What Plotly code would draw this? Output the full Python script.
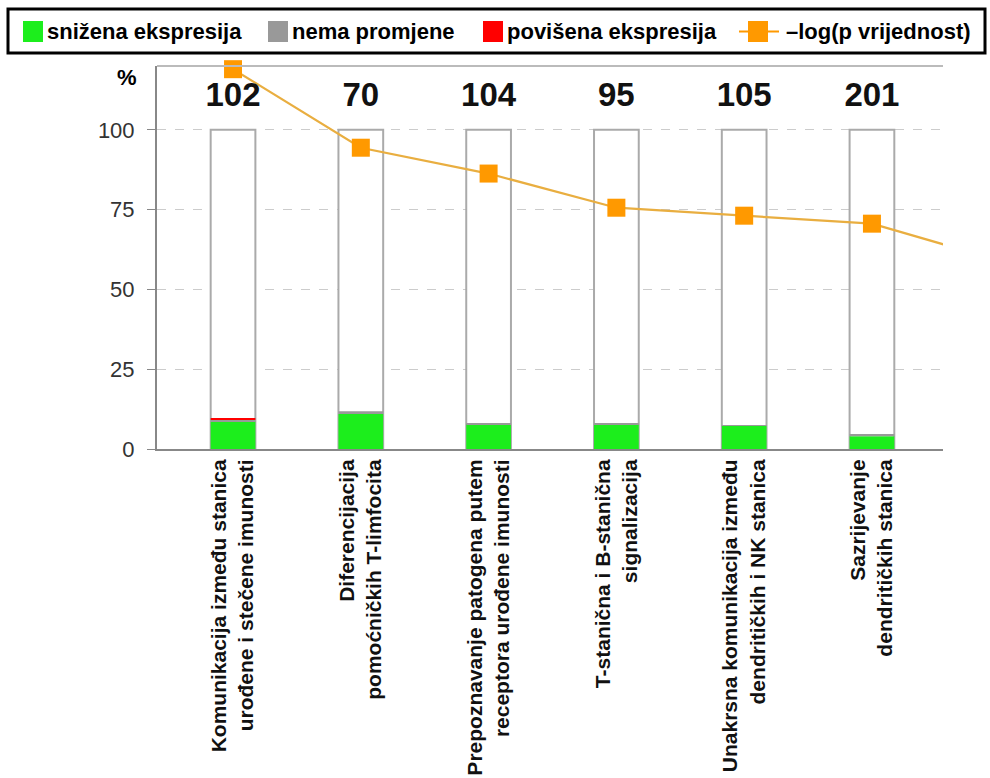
import plotly.graph_objects as go

categories = [
    "Komunikacija između stanica<br>urođene i stečene imunosti",
    "Diferencijacija<br>pomoćničkih T-limfocita",
    "Prepoznavanje patogena putem<br>receptora urođene imunosti",
    "T-stanična i B-stanična<br>signalizacija",
    "Unakrsna komunikacija između<br>dendritičkih i NK stanica",
    "Sazrijevanje<br>dendritičkih stanica",
]
counts = [102, 70, 104, 95, 105, 201]
down_pct = [8.5, 11.0, 7.8, 7.7, 7.3, 4.0]
nochange_pct = [0.6, 0.8, 0.3, 0.3, 0.2, 0.7]
up_pct = [0.4, 0.0, 0.0, 0.0, 0.0, 0.0]
total_pct = [100, 100, 100, 100, 100, 100]
# -log(p) series; the last point lies beyond the visible category range
neglogp = [119, 94.4, 86.3, 75.6, 73.1, 70.6, 59.0]
y_ticks = [0, 25, 50, 75, 100]

legend_names = ["snižena ekspresija", "nema promjene", "povišena ekspresija", "\u2013log(p vrijednost)"]

C_GREEN = "#1CEE1C"
C_GRAY = "#999999"
C_RED = "#FF0000"
C_ORANGE = "#FF9900"
C_LINE = "#E9AE40"

W, H = 990, 778
ML, MR, MT, MB = 157, 47, 66, 329
PW, PH = W - ML - MR, H - MT - MB

def px(x):
    return (x - ML) / PW

def py(y):
    return (H - MB - y) / PH

xs = list(range(len(categories)))
base_gray = [d for d in down_pct]
base_red = [d + n for d, n in zip(down_pct, nochange_pct)]

fig = go.Figure()
fig.add_trace(go.Bar(x=xs, y=total_pct, width=0.35, marker=dict(color="white", line=dict(color="#AAAAAA", width=2)), showlegend=False, hoverinfo="skip"))
fig.add_trace(go.Bar(x=xs, y=down_pct, width=0.35, marker=dict(color=C_GREEN, line=dict(width=0)), name=legend_names[0], showlegend=False))
fig.add_trace(go.Bar(x=xs, y=nochange_pct, base=base_gray, width=0.35, marker=dict(color=C_GRAY, line=dict(width=0)), name=legend_names[1], showlegend=False))
fig.add_trace(go.Bar(x=xs, y=up_pct, base=base_red, width=0.35, marker=dict(color=C_RED, line=dict(width=0)), name=legend_names[2], showlegend=False))

line_x = list(range(len(neglogp)))
fig.add_trace(go.Scatter(x=line_x, y=neglogp, mode="lines", line=dict(color=C_LINE, width=2.2), showlegend=False, hoverinfo="skip"))
fig.add_trace(go.Scatter(x=xs, y=neglogp[:len(xs)], mode="markers", marker=dict(symbol="square", size=18, color=C_ORANGE), cliponaxis=False, name=legend_names[3], showlegend=False))

fig.add_trace(go.Scatter(x=xs, y=[110] * len(xs), mode="text", text=[str(c) for c in counts],
                         textfont=dict(size=33, color="#111111", family="Liberation Sans", weight="bold"),
                         cliponaxis=False, showlegend=False, hoverinfo="skip"))

fig.update_layout(
    width=W, height=H,
    margin=dict(l=ML, r=MR, t=MT, b=MB, autoexpand=False),
    paper_bgcolor="white", plot_bgcolor="white",
    barmode="overlay",
    font=dict(family="Liberation Sans", color="#111111"),
    xaxis=dict(range=[-0.595, 5.556], tickmode="array", tickvals=xs, ticktext=categories,
               tickangle=-90, tickfont=dict(size=21, weight="bold", color="#111111"),
               showline=True, linecolor="#888888", linewidth=2, showgrid=False, ticks="", zeroline=False),
    yaxis=dict(range=[0, 120], tickmode="array", tickvals=y_ticks, ticktext=[str(v) for v in y_ticks],
               tickfont=dict(size=22, color="#333333"), ticks="outside", ticklen=8, tickcolor="#888888", tickwidth=1,
               ticklabelstandoff=8,
               showline=True, linecolor="#888888", linewidth=2, showgrid=True, gridcolor="#CCCCCC", griddash="dash",
               gridwidth=1, zeroline=False),
)

shapes = []
annotations = []
# top border of plot area
shapes.append(dict(type="line", xref="paper", yref="paper", x0=0, x1=1, y0=1, y1=1, line=dict(color="#BBBBBB", width=2)))
# legend box
shapes.append(dict(type="rect", xref="paper", yref="paper", x0=px(8), x1=px(985), y0=py(53), y1=py(9),
                   line=dict(color="black", width=3), fillcolor="white", layer="above"))
legend_items = [
    (C_GREEN, 23, 45, False),
    (C_GRAY, 268, 290, False),
    (C_RED, 483, 505, False),
    (C_ORANGE, 748, 784, True),
]
yc = 31.5
for (col, sx, tx, is_line), name in zip(legend_items, legend_names):
    if is_line:
        shapes.append(dict(type="line", xref="paper", yref="paper", x0=px(739), x1=px(779), y0=py(yc), y1=py(yc),
                           line=dict(color=C_ORANGE, width=2), layer="above"))
    shapes.append(dict(type="rect", xref="paper", yref="paper", x0=px(sx), x1=px(sx + 20), y0=py(yc + 10.5), y1=py(yc - 10.5),
                       line=dict(width=0), fillcolor=col, layer="above"))
    annotations.append(dict(xref="paper", yref="paper", x=px(tx), y=py(yc), xanchor="left", yanchor="middle",
                            text=name, showarrow=False, font=dict(size=22, weight="bold", color="black")))
annotations.append(dict(xref="paper", yref="paper", x=px(127), y=py(77), xanchor="center", yanchor="middle",
                        text="%", showarrow=False, font=dict(size=22, weight="bold", color="black")))
fig.update_layout(shapes=shapes, annotations=annotations)

fig.write_html("out.html", config={"displayModeBar": False},
               post_script="document.body.style.margin='0';document.body.style.overflow='hidden';")
